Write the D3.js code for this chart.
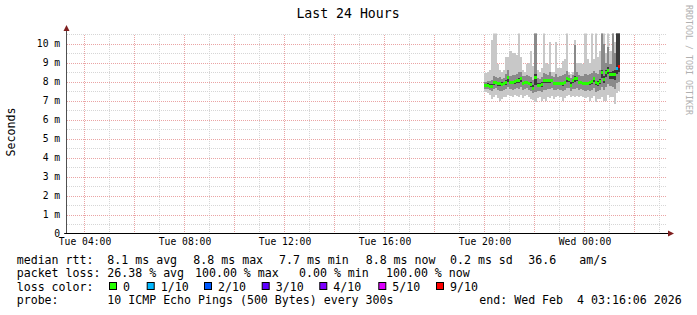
<html>
<head>
<meta charset="utf-8">
<title>Last 24 Hours</title>
<script src="https://cdn.jsdelivr.net/npm/d3@7"></script>
<style>
  body { margin: 0; background: #fff; }
  text { font-family: "DejaVu Sans Mono", monospace; fill: #000; }
</style>
</head>
<body>
<script type="text/javascript">

// 5 minute steps starting Tue 20:00
var firstStep = new Date(2026, 1, 3, 20, 0, 0);
var stepMs = 300000;

// median rtt per step (ms)
var median = [7.80,7.80,7.75,7.75,7.95,7.95,7.90,7.90,7.85,7.90,
              7.95,8.20,7.95,7.95,8.00,8.05,8.05,8.15,7.90,7.95,
              7.95,7.90,7.85,7.65,8.20,7.80,7.80,7.85,8.05,8.05,
              8.05,8.05,8.05,7.90,7.90,7.90,7.90,7.90,7.95,8.15,
              8.10,7.80,8.05,8.15,8.15,7.95,7.95,7.90,7.90,7.90,
              7.95,8.00,8.15,7.95,7.90,8.00,8.45,8.10,8.45,8.60,
              8.35,8.35,8.35,8.70,8.80];
// lost pings out of 10
var loss = [0,0,0,0,0,0,0,0,0,0, 0,0,0,0,0,0,0,0,0,0, 0,0,0,0,0,0,0,0,0,0,
            0,0,0,0,0,0,0,0,0,0, 0,0,0,0,0,0,0,0,0,0, 0,0,0,0,0,0,0,0,0,0,
            0,0,0,1,9];
// smoke: fastest / slowest ping
var minPing = [7.45,7.40,7.30,7.10,7.20,7.30,7.15,7.00,7.10,7.20,
               7.20,7.30,7.25,7.20,7.30,7.25,7.20,7.30,7.15,7.25,
               7.30,7.20,7.10,7.05,6.90,7.15,7.20,7.00,7.10,7.00,
               7.20,7.15,7.25,7.10,7.20,7.25,7.20,7.00,7.15,7.25,
               7.30,7.20,7.25,7.20,7.25,7.20,7.25,7.20,7.15,7.20,
               7.00,7.15,7.25,6.90,7.10,7.10,7.20,7.00,7.00,7.30,
               7.20,7.20,6.80,7.40,7.50];
var maxPing = [8.45,8.50,8.60,10.20,10.70,10.70,8.90,8.60,8.50,8.60,
               9.30,9.30,9.60,9.50,9.50,9.40,10.70,9.30,8.60,8.50,
               8.90,9.00,9.60,8.80,10.70,8.60,8.50,8.70,10.70,9.00,
               8.90,10.10,8.50,8.50,10.10,8.70,8.70,9.10,9.20,10.70,
               8.50,8.40,8.50,10.20,9.00,9.00,9.00,8.90,10.70,9.20,
               9.00,10.70,9.20,10.70,9.30,9.60,10.70,10.70,9.50,10.70,
               9.60,10.70,10.10,10.70,10.70];
// smoke: 3rd / 8th ping
var lowPing = [7.62,7.60,7.55,7.50,7.60,7.65,7.55,7.50,7.50,7.55,
               7.60,7.70,7.60,7.55,7.60,7.65,7.60,7.70,7.55,7.60,
               7.65,7.55,7.50,7.40,7.45,7.50,7.50,7.45,7.55,7.55,
               7.60,7.60,7.65,7.55,7.55,7.60,7.55,7.50,7.55,7.65,
               7.65,7.50,7.60,7.60,7.65,7.55,7.60,7.55,7.50,7.55,
               7.50,7.55,7.65,7.45,7.50,7.55,7.70,7.55,7.70,7.85,
               7.75,7.70,7.60,7.90,8.00];
var highPing = [8.00,8.05,8.05,8.10,8.30,8.25,8.20,8.25,8.15,8.20,
                8.40,8.60,8.30,8.35,8.35,8.40,8.50,8.50,8.30,8.30,
                8.35,8.30,8.25,8.10,10.70,8.20,8.15,8.25,8.45,8.40,
                8.35,8.50,8.30,8.25,8.40,8.25,8.30,8.35,8.40,8.55,
                8.35,8.20,8.35,9.90,8.50,8.35,8.30,8.30,8.40,8.35,
                8.40,8.45,8.55,8.45,8.40,8.60,10.70,10.00,9.00,9.80,
                8.90,10.70,9.50,10.70,10.70];
// smoke: 5th / 6th ping
var innerLow = [7.72,7.72,7.68,7.65,7.82,7.85,7.78,7.78,7.75,7.80,
                7.82,8.00,7.85,7.85,7.88,7.92,7.90,8.00,7.80,7.85,
                7.85,7.80,7.72,7.58,7.80,7.70,7.70,7.72,7.90,7.92,
                7.92,7.92,7.95,7.80,7.80,7.80,7.80,7.78,7.85,8.00,
                7.98,7.70,7.92,8.00,8.02,7.85,7.85,7.80,7.80,7.80,
                7.82,7.88,8.00,7.82,7.78,7.88,8.20,7.90,8.25,8.40,
                8.15,8.15,8.10,8.40,8.50];
var innerHigh = [7.88,7.90,7.85,7.85,8.05,8.05,8.00,8.00,7.95,8.00,
                 8.10,8.30,8.05,8.05,8.10,8.15,8.20,8.25,8.00,8.05,
                 8.05,8.00,7.95,7.80,8.40,7.90,7.90,7.95,8.15,8.15,
                 8.15,8.15,8.15,8.00,8.00,8.00,8.00,8.00,8.05,8.25,
                 8.20,7.95,8.15,8.30,8.25,8.05,8.05,8.00,8.00,8.00,
                 8.05,8.10,8.25,8.05,8.05,8.15,8.60,8.30,8.60,8.75,
                 8.50,8.55,8.60,10.70,10.70];

var lossColors = {0: "#26ff00", 1: "#00b8ff", 2: "#0059ff", 3: "#5e00ff",
                  4: "#7e00ff", 5: "#dd00ff", 9: "#ff0000"};
var legendLoss = ["0", "1/10", "2/10", "3/10", "4/10", "5/10", "9/10"];
var legendLossKey = [0, 1, 2, 3, 4, 5, 9];

var yTicks = [0,1,2,3,4,5,6,7,8,9,10];
var yMinor = [0.5,1.5,2.5,3.5,4.5,5.5,6.5,7.5,8.5,9.5,10.5];

var w = 697, h = 315;
var plotL = 67.2, plotR = 667.2, plotT = 33.5, plotB = 233.5;

var svg = d3.select("body").append("svg")
    .attr("width", w).attr("height", h);

var x = d3.scaleTime()
    .domain([new Date(2026, 1, 3, 3, 18, 30), new Date(2026, 1, 4, 3, 18, 30)])
    .range([plotL, plotR]);
var y = d3.scaleLinear().domain([0, 200 / 19]).range([plotB, plotT]);

// grid, minor first
var hourTicks = d3.timeHour.range(new Date(2026, 1, 3, 4), new Date(2026, 1, 4, 3, 30));
var oddHours = hourTicks.filter(function(d) { return d.getHours() % 2 == 1; });
var evenHours = hourTicks.filter(function(d) { return d.getHours() % 2 == 0; });

function grid(g, color) {
    g.select(".domain").remove();
    g.selectAll("line").attr("stroke", color).attr("stroke-dasharray", "1,1")
        .attr("shape-rendering", "crispEdges");
}
svg.append("g").attr("transform", "translate(" + plotL + ",0)")
    .call(d3.axisLeft(y).tickValues(yMinor).tickSize(-(plotR - plotL)).tickFormat(""))
    .call(grid, "#d6d6d6");
svg.append("g").attr("transform", "translate(0," + plotB + ")")
    .call(d3.axisBottom(x).tickValues(oddHours).tickSize(-(plotB - plotT)).tickFormat(""))
    .call(grid, "#d6d6d6");
svg.append("g").attr("transform", "translate(" + plotL + ",0)")
    .call(d3.axisLeft(y).tickValues(yTicks.slice(1)).tickSize(-(plotR - plotL)).tickFormat(""))
    .call(grid, "#eaa4a4");
svg.append("g").attr("transform", "translate(0," + plotB + ")")
    .call(d3.axisBottom(x).tickValues(evenHours).tickSize(-(plotB - plotT)).tickFormat(""))
    .call(grid, "#eaa4a4");

// smoke
svg.append("clipPath").attr("id", "plot").append("rect")
    .attr("x", plotL).attr("y", plotT).attr("width", plotR - plotL).attr("height", plotB - plotT);

var steps = median.map(function(d, i) {
    return {t: new Date(+firstStep + i * stepMs), i: i};
});
var stepsEnd = steps.concat([{t: new Date(+firstStep + median.length * stepMs), i: median.length - 1}]);

function smoke(lo, hi, color) {
    var area = d3.area()
        .x(function(d) { return x(d.t); })
        .y0(function(d) { return y(lo[d.i]); })
        .y1(function(d) { return y(hi[d.i]); })
        .curve(d3.curveStepAfter);
    svg.append("path").datum(stepsEnd)
        .attr("clip-path", "url(#plot)")
        .attr("fill", color)
        .attr("shape-rendering", "crispEdges")
        .attr("d", area);
}
smoke(minPing, maxPing, "#c8c8c8");
smoke(lowPing, highPing, "#8a8a8a");
smoke(innerLow, innerHigh, "#3a3a3a");

// median coloured by loss
svg.append("g").attr("clip-path", "url(#plot)")
    .selectAll("rect").data(steps).enter().append("rect")
    .attr("x", function(d) { return x(d.t); })
    .attr("width", function(d) { return x(new Date(+d.t + stepMs)) - x(d.t); })
    .attr("y", function(d) { return y(median[d.i]) - 1.5; })
    .attr("height", 3)
    .attr("shape-rendering", "crispEdges")
    .attr("fill", function(d) { return lossColors[loss[d.i]]; });

// axes
svg.append("line").attr("x1", plotL - 0.7).attr("x2", plotL - 0.7)
    .attr("y1", plotB).attr("y2", 30).attr("stroke", "#505050");
svg.append("line").attr("x1", plotL - 3).attr("x2", plotR + 2)
    .attr("y1", plotB).attr("y2", plotB).attr("stroke", "#000");
svg.append("path").attr("d", "M63.5,31L66.5,25L69.5,31Z").attr("fill", "#7f1f1f");
svg.append("path").attr("d", "M668,230.5L674,233.5L668,236.5Z").attr("fill", "#7f1f1f");

var yAxis = svg.append("g").attr("transform", "translate(" + plotL + ",0)")
    .call(d3.axisLeft(y).tickValues(yTicks).tickSize(0).tickPadding(7)
        .tickFormat(function(d) { return d == 0 ? "0" : d + " m"; }));
yAxis.select(".domain").remove();
yAxis.selectAll("text").style("font-size", "9.7px").attr("font-family", null);

var xAxis = svg.append("g").attr("transform", "translate(0," + plotB + ")")
    .call(d3.axisBottom(x).tickValues(d3.timeHour.every(4).range(new Date(2026, 1, 3, 4), new Date(2026, 1, 4, 3)))
        .tickSize(0).tickPadding(4.3).tickFormat(d3.timeFormat("%a %H:%M")));
xAxis.select(".domain").remove();
xAxis.selectAll("text").style("font-size", "9.7px").attr("font-family", null);

// titles
svg.append("text").attr("x", 348).attr("y", 17.5).attr("text-anchor", "middle")
    .style("font-size", "13.2px").text("Last 24 Hours");
svg.append("text").attr("transform", "translate(15,132) rotate(-90)")
    .attr("text-anchor", "middle").style("font-size", "11.6px").text("Seconds");
svg.append("text").attr("transform", "translate(686,5) rotate(90)")
    .attr("textLength", 110).attr("lengthAdjust", "spacingAndGlyphs")
    .style("font-size", "8.4px").style("fill", "#b0b0b0").text("RRDTOOL / TOBI OETIKER");

// legend
var legendRows = [
    {y: 263.5, items: [[16.7, "median rtt:"], [107.3, "8.1 ms avg"], [193.3, "8.8 ms max"],
        [279, "7.7 ms min"], [365.7, "8.8 ms now"], [450, "0.2 ms sd"], [528.3, "36.6"], [579.3, "am/s"]]},
    {y: 277, items: [[16.7, "packet loss:"], [107.3, "26.38 % avg"], [195, "100.00 % max"],
        [299, "0.00 % min"], [386, "100.00 % now"]]},
    {y: 290.7, items: [[16.7, "loss color:"]]},
    {y: 304.3, items: [[16.7, "probe:"], [107.3, "10 ICMP Echo Pings (500 Bytes) every 300s"],
        [479.3, "end: Wed Feb  4 03:16:06 2026"]]}
];
legendRows.forEach(function(row) {
    row.items.forEach(function(it) {
        svg.append("text").attr("x", it[0]).attr("y", row.y)
            .style("font-size", "11.6px").style("white-space", "pre")
            .attr("xml:space", "preserve").text(it[1]);
    });
});

var boxX = [109, 146.7, 204, 261.7, 319.3, 378.3, 436];
legendLoss.forEach(function(lbl, i) {
    svg.append("rect").attr("x", boxX[i] + 0.5).attr("y", 282.5)
        .attr("width", 7).attr("height", 7)
        .attr("fill", lossColors[legendLossKey[i]]).attr("stroke", "#000");
    svg.append("text").attr("x", boxX[i] + 14).attr("y", 290.7)
        .style("font-size", "11.6px").text(lbl);
});

</script>
</body>
</html>
